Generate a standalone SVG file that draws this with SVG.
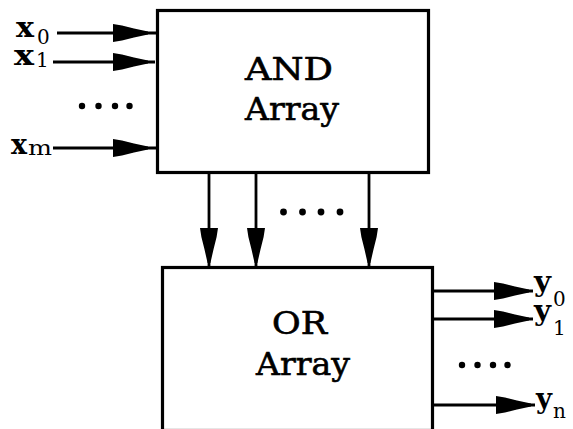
<svg xmlns="http://www.w3.org/2000/svg" xmlns:xlink="http://www.w3.org/1999/xlink" width="573" height="429" viewBox="0 0 573 429">
<style>
.box{fill:#fff;stroke:#000;stroke-width:3.2}
.ln{stroke:#000;stroke-width:2.8;fill:none}
.dot{fill:#000}
.big{font-family:"DejaVu Serif","Liberation Serif",serif;font-size:31px;fill:#000;text-anchor:middle;stroke:#000;stroke-width:0.6}
.var{font-family:"DejaVu Serif","Liberation Serif",serif;font-weight:bold;font-size:27px;fill:#000}
.sub{font-family:"DejaVu Serif","Liberation Serif",serif;font-size:20px;fill:#000}
</style>
<defs>
<path id="ah" d="M0,-1.4 L-14,-4.6 L-26,-7.6 L-35,-9 L-35,9 L-26,7.6 L-14,4.6 L0,1.4 Z" fill="#000"/>
</defs>
<rect width="573" height="429" fill="#fff"/>
<g id="and-array">
<rect class="box" x="157.5" y="10.5" width="271" height="162"/>
<text class="big" x="289" y="80" textLength="88" lengthAdjust="spacingAndGlyphs">AND</text>
<text class="big" x="292" y="120" textLength="94" lengthAdjust="spacingAndGlyphs">Array</text>
</g>
<g id="or-array">
<rect class="box" x="162.5" y="267.5" width="270" height="163"/>
<text class="big" x="299.5" y="334" textLength="55" lengthAdjust="spacingAndGlyphs">OR</text>
<text class="big" x="303" y="375" textLength="94" lengthAdjust="spacingAndGlyphs">Array</text>
</g>
<g id="inputs">
<text class="var" x="16" y="37" textLength="18" lengthAdjust="spacingAndGlyphs">x</text><text class="sub" x="37" y="44">0</text>
<text class="var" x="14" y="65" textLength="20" lengthAdjust="spacingAndGlyphs">x</text><text class="sub" x="36" y="67">1</text>
<text class="var" x="11" y="154" textLength="16" lengthAdjust="spacingAndGlyphs">x</text><text class="sub" x="28" y="155" textLength="24" lengthAdjust="spacingAndGlyphs">m</text>
<circle class="dot" cx="82" cy="106" r="3.2"/><circle class="dot" cx="98.5" cy="106" r="3.2"/><circle class="dot" cx="115" cy="106" r="3.2"/><circle class="dot" cx="129.5" cy="106" r="3.2"/>
</g>
<g id="outputs">
<text class="var" x="534" y="291" textLength="17" lengthAdjust="spacingAndGlyphs">y</text><text class="sub" x="553" y="306">0</text>
<text class="var" x="534" y="320" textLength="17" lengthAdjust="spacingAndGlyphs">y</text><text class="sub" x="553" y="335">1</text>
<text class="var" x="536" y="408" textLength="16" lengthAdjust="spacingAndGlyphs">y</text><text class="sub" x="553" y="418">n</text>
<circle class="dot" cx="462" cy="365" r="3.2"/><circle class="dot" cx="477.5" cy="365" r="3.2"/><circle class="dot" cx="493" cy="365" r="3.2"/><circle class="dot" cx="507.5" cy="365" r="3.2"/>
</g>
<g id="connectors">
<line class="ln" x1="57" y1="33" x2="157" y2="33"/>
<use xlink:href="#ah" transform="translate(148,33)"/>
<line class="ln" x1="53" y1="62" x2="155" y2="62"/>
<use xlink:href="#ah" transform="translate(148,62)"/>
<line class="ln" x1="53" y1="148" x2="157" y2="148"/>
<use xlink:href="#ah" transform="translate(148,148)"/>
<line class="ln" x1="209" y1="173" x2="209" y2="267"/>
<use xlink:href="#ah" transform="translate(209,263) rotate(90)"/>
<line class="ln" x1="256" y1="173" x2="256" y2="267"/>
<use xlink:href="#ah" transform="translate(256,263) rotate(90)"/>
<line class="ln" x1="369" y1="173" x2="369" y2="267"/>
<use xlink:href="#ah" transform="translate(369,263) rotate(90)"/>
<circle class="dot" cx="283.5" cy="212" r="3.4"/><circle class="dot" cx="302.5" cy="212" r="3.4"/><circle class="dot" cx="321" cy="212" r="3.4"/><circle class="dot" cx="340" cy="212" r="3.4"/>
<line class="ln" x1="432" y1="291" x2="533" y2="291"/>
<use xlink:href="#ah" transform="translate(529,291)"/>
<line class="ln" x1="432" y1="319" x2="533" y2="319"/>
<use xlink:href="#ah" transform="translate(529,319)"/>
<line class="ln" x1="432" y1="405" x2="535" y2="405"/>
<use xlink:href="#ah" transform="translate(531,405)"/>
</g>
</svg>
